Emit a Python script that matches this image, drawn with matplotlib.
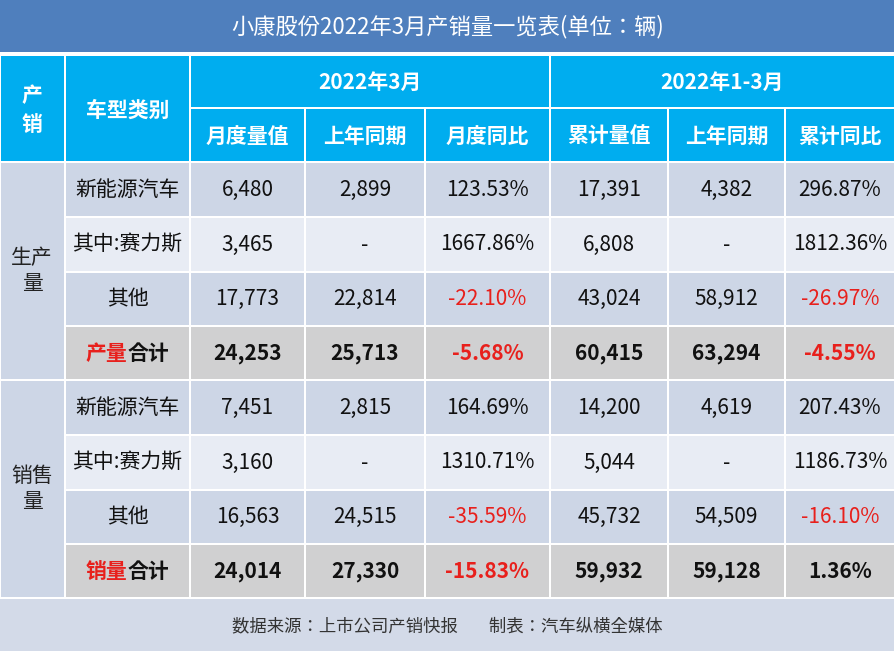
import matplotlib
matplotlib.use("Agg")
import matplotlib.pyplot as plt
from matplotlib.patches import Rectangle
from matplotlib import font_manager as fm

cjk = [f.name for f in fm.fontManager.ttflist if "CJK" in f.name]
pref = [n for n in ["Noto Sans CJK SC", "Noto Sans CJK JP", "Noto Sans CJK TC", "Noto Sans CJK KR"] if n in cjk]
fam = (pref or cjk or ["DejaVu Sans"])[0]
plt.rcParams["font.family"] = "sans-serif"
plt.rcParams["font.sans-serif"] = [fam, "DejaVu Sans"]

title = "小康股份2022年3月产销量一览表(单位：辆)"
groups = ["2022年3月", "2022年1-3月"]
sub_headers = ["月度量值", "上年同期", "月度同比", "累计量值", "上年同期", "累计同比"]
sections = ["生产\n量", "销售\n量"]
categories = ["新能源汽车", "其中:赛力斯", "其他"]
total_prefix = ["产量", "销量"]
prod_rows = [
    ["6,480", "2,899", "123.53%", "17,391", "4,382", "296.87%"],
    ["3,465", "-", "1667.86%", "6,808", "-", "1812.36%"],
    ["17,773", "22,814", "-22.10%", "43,024", "58,912", "-26.97%"],
    ["24,253", "25,713", "-5.68%", "60,415", "63,294", "-4.55%"],
]
sales_rows = [
    ["7,451", "2,815", "164.69%", "14,200", "4,619", "207.43%"],
    ["3,160", "-", "1310.71%", "5,044", "-", "1186.73%"],
    ["16,563", "24,515", "-35.59%", "45,732", "54,509", "-16.10%"],
    ["24,014", "27,330", "-15.83%", "59,932", "59,128", "1.36%"],
]
footer = "数据来源：上市公司产销快报        制表：汽车纵横全媒体"

W, H = 895, 651
fig = plt.figure(figsize=(W / 100, H / 100), dpi=100)
ax = fig.add_axes([0, 0, 1, 1])
ax.set_xlim(0, W)
ax.set_ylim(H, 0)
ax.axis("off")

xs = [0, 65, 190, 305, 425, 550, 668, 785, 895]
row_y = [162, 217, 272, 326, 380, 435, 490, 544, 598]
TITLE_BG = "#4F7FBD"
HEAD_BG = "#00ADEF"
DARK = "#CDD6E6"
LIGHT = "#E8ECF4"
GRAY = "#D0D0D1"
RED = "#E8201C"
G = 2

def cell(x0, y0, x1, y1, color):
    ax.add_patch(Rectangle((x0 + G / 2, y0 + G / 2), x1 - x0 - G, y1 - y0 - G,
                           facecolor=color, edgecolor="none"))

ax.add_patch(Rectangle((0, 0), W, H, facecolor="white", edgecolor="none"))
ax.add_patch(Rectangle((0, 0), W, 52, facecolor=TITLE_BG, edgecolor="none"))
ax.text(W / 2, 27, title, color="white", fontsize=16, ha="center", va="center")

cell(xs[0], 55, xs[1], 162, HEAD_BG)
ax.text(32, 110, "产\n销", color="white", fontsize=15, fontweight="bold",
        ha="center", va="center", linespacing=1.5)
cell(xs[1], 55, xs[2], 162, HEAD_BG)
ax.text((xs[1] + xs[2]) / 2, 110, "车型类别", color="white", fontsize=15,
        fontweight="bold", ha="center", va="center")
for gi, g in enumerate(groups):
    x0, x1 = xs[2 + 3 * gi], xs[5 + 3 * gi]
    cell(x0, 55, x1, 108, HEAD_BG)
    ax.text((x0 + x1) / 2, 82, g, color="white", fontsize=15, fontweight="bold",
            ha="center", va="center")
for i, s in enumerate(sub_headers):
    cell(xs[2 + i], 108, xs[3 + i], 162, HEAD_BG)
    ax.text((xs[2 + i] + xs[3 + i]) / 2, 136, s, color="white", fontsize=15,
            fontweight="bold", ha="center", va="center")

for si, rows in enumerate([prod_rows, sales_rows]):
    y0 = row_y[4 * si]
    y1 = row_y[4 * si + 4]
    cell(xs[0], y0, xs[1], y1, DARK)
    ax.text(32, (y0 + y1) / 2, sections[si], fontsize=15, ha="center",
            va="center", color="#222222", linespacing=1.2)
    for ri, vals in enumerate(rows):
        ya, yb = row_y[4 * si + ri], row_y[4 * si + ri + 1]
        yc = (ya + yb) / 2
        is_total = ri == 3
        bg = GRAY if is_total else (DARK if ri % 2 == 0 else LIGHT)
        cx = (xs[1] + xs[2]) / 2
        cell(xs[1], ya, xs[2], yb, bg)
        if is_total:
            ax.text(cx, yc, total_prefix[si], color=RED, fontsize=15,
                    fontweight="bold", ha="right", va="center")
            ax.text(cx, yc, "合计", color="#111111", fontsize=15,
                    fontweight="bold", ha="left", va="center")
        else:
            ax.text(cx, yc, categories[ri], color="#111111", fontsize=15,
                    ha="center", va="center")
        for ci, v in enumerate(vals):
            cell(xs[2 + ci], ya, xs[3 + ci], yb, bg)
            color = RED if v.startswith("-") and v != "-" else "#111111"
            ax.text((xs[2 + ci] + xs[3 + ci]) / 2, yc, v, color=color,
                    fontsize=15, fontweight="bold" if is_total else "normal",
                    ha="center", va="center")

ax.add_patch(Rectangle((0, 599), W, H - 599, facecolor="#D3DAE8", edgecolor="none"))
ax.text(W / 2, 626, footer, fontsize=12.5, ha="center", va="center", color="#333333")

fig.savefig("out.png", dpi=100)
